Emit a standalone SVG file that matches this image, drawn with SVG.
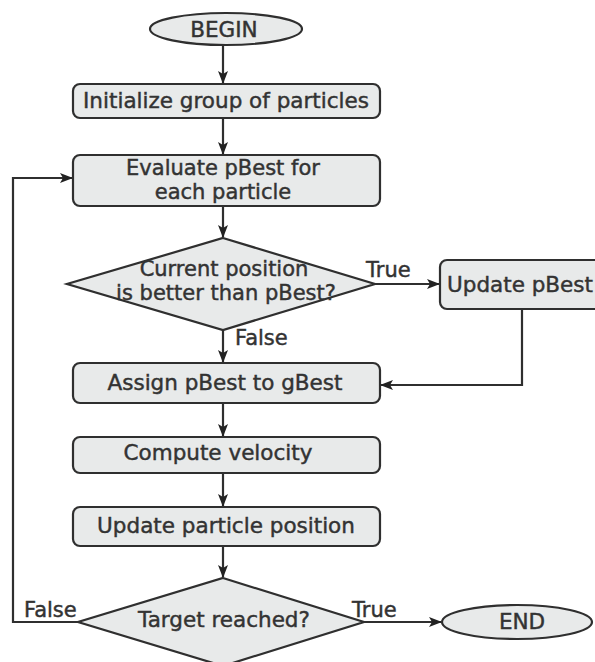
<svg xmlns="http://www.w3.org/2000/svg" width="595" height="662" viewBox="0 0 595 662">
<style>
.n{fill:#e8eaea;stroke:#2f2f2f;stroke-width:2.2}
.t{font-family:"DejaVu Sans",Verdana,sans-serif;font-size:21.5px;fill:#333;stroke:#333;stroke-width:0.45;text-anchor:middle}
.t2{font-size:21px}
.l{font-family:"DejaVu Sans",Verdana,sans-serif;font-size:21px;fill:#333;stroke:#333;stroke-width:0.45}
.c{fill:none;stroke:#2f2f2f;stroke-width:2.2}
</style>
<defs>
<marker id="ah" markerWidth="13" markerHeight="10" refX="12" refY="5" orient="auto" markerUnits="userSpaceOnUse">
<path d="M0,0 L13,5 L0,10 L3,5 Z" fill="#222"/>
</marker>
</defs>
<rect width="595" height="662" fill="#fff"/>
<g id="connectors">
<path class="c" d="M223,45 V83" marker-end="url(#ah)"/>
<path class="c" d="M223,118 V154" marker-end="url(#ah)"/>
<path class="c" d="M223,206 V237" marker-end="url(#ah)"/>
<path class="c" d="M375,284 H439" marker-end="url(#ah)"/>
<path class="c" d="M522,309 V385 H381" marker-end="url(#ah)"/>
<path class="c" d="M223,330 V362" marker-end="url(#ah)"/>
<path class="c" d="M223,403 V436" marker-end="url(#ah)"/>
<path class="c" d="M223,473 V506" marker-end="url(#ah)"/>
<path class="c" d="M223,546 V577" marker-end="url(#ah)"/>
<path class="c" d="M78,622 H13 V178 H72" marker-end="url(#ah)"/>
<path class="c" d="M364,622 H441" marker-end="url(#ah)"/>
<text class="l" x="366" y="277">True</text>
<text class="l" x="235" y="345">False</text>
<text class="l" x="24" y="617">False</text>
<text class="l" x="352" y="617">True</text>
</g>
<g id="begin">
<ellipse class="n" cx="226" cy="29" rx="76" ry="16"/>
<text class="t" x="224" y="37">BEGIN</text>
</g>
<g id="init">
<rect class="n" x="73" y="84" width="307" height="34" rx="7"/>
<text class="t" x="226" y="108">Initialize group of particles</text>
</g>
<g id="evaluate">
<rect class="n" x="73" y="155" width="307" height="51" rx="7"/>
<text class="t t2" x="223" y="175">Evaluate pBest for</text>
<text class="t t2" x="223" y="199">each particle</text>
</g>
<g id="decision1">
<polygon class="n" points="223,238 375,284 223,330 67,284"/>
<text class="t t2" x="224" y="276">Current position</text>
<text class="t t2" x="226" y="300">is better than pBest?</text>
</g>
<g id="updatepbest">
<rect class="n" x="440" y="260" width="170" height="49" rx="7"/>
<text class="t" x="447" y="292" style="text-anchor:start">Update pBest</text>
</g>
<g id="assign">
<rect class="n" x="73" y="363" width="307" height="40" rx="7"/>
<text class="t" x="225" y="390">Assign pBest to gBest</text>
</g>
<g id="velocity">
<rect class="n" x="73" y="437" width="307" height="36" rx="7"/>
<text class="t" x="218" y="460">Compute velocity</text>
</g>
<g id="position">
<rect class="n" x="73" y="507" width="307" height="39" rx="7"/>
<text class="t" x="226" y="533">Update particle position</text>
</g>
<g id="decision2">
<polygon class="n" points="223,578 364,622 223,666 78,622"/>
<text class="t" x="224" y="627">Target reached?</text>
</g>
<g id="end">
<ellipse class="n" cx="517" cy="622" rx="75" ry="17"/>
<text class="t" x="522" y="629">END</text>
</g>
</svg>
